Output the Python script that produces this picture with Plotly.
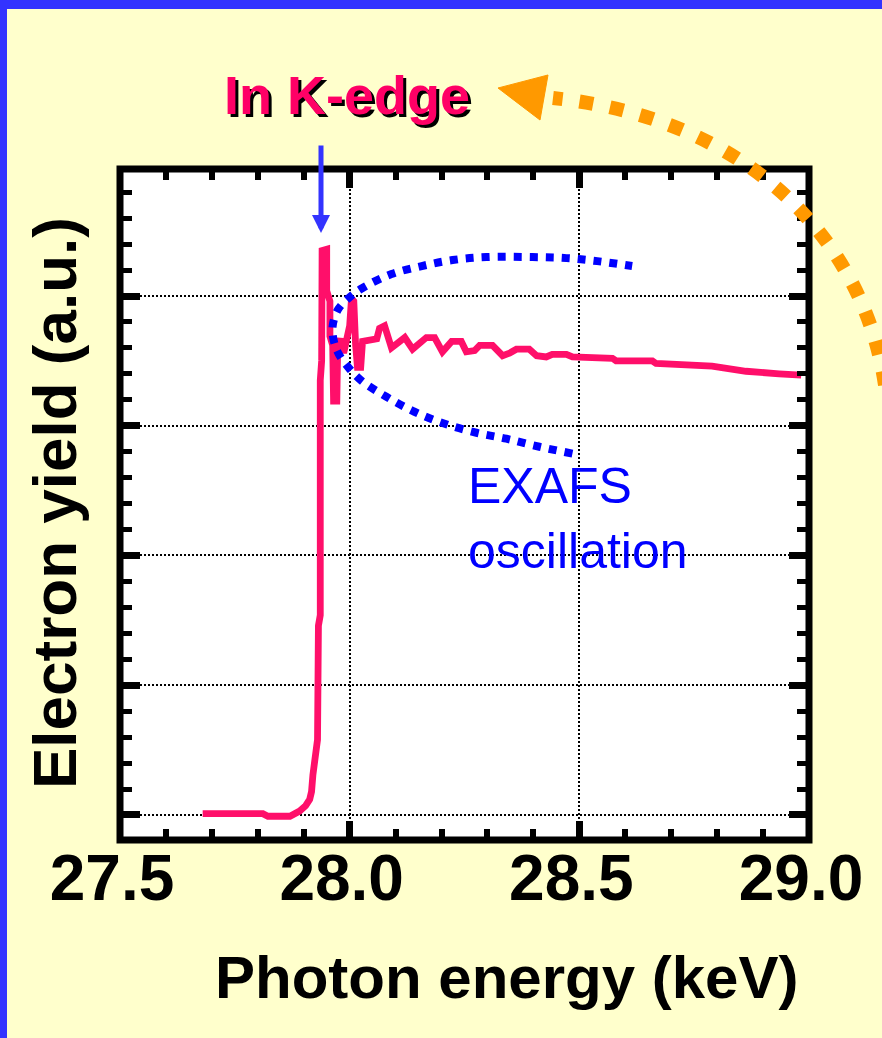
import plotly.graph_objects as go

# ---- data (y in grid units, 1 unit = one major gridline step) ----
energy_kev = [27.680, 27.811, 27.822, 27.870, 27.891, 27.904, 27.913, 27.917, 27.920, 27.926,
              27.930, 27.932, 27.936, 27.936, 27.939, 27.940, 27.950, 27.950, 27.957, 27.957,
              27.963, 27.965, 27.972, 27.974, 27.980, 27.987, 27.993, 28.000, 28.004, 28.009,
              28.013, 28.017, 28.024, 28.028, 28.059, 28.065, 28.076, 28.091, 28.120, 28.137,
              28.167, 28.185, 28.202, 28.222, 28.243, 28.254, 28.272, 28.283, 28.311, 28.333,
              28.348, 28.363, 28.391, 28.407, 28.428, 28.441, 28.472, 28.485, 28.572, 28.580,
              28.659, 28.667, 28.789, 28.863, 28.935, 28.983]
electron_yield = [0.01, 0.01, -0.01, -0.01, 0.03, 0.07, 0.12, 0.18, 0.31, 0.54,
                  0.58, 1.46, 1.54, 3.35, 3.50, 4.35, 4.36, 4.04, 3.96, 3.69,
                  3.62, 3.19, 3.19, 3.62, 3.67, 3.56, 3.67, 3.77, 3.98, 3.96,
                  3.62, 3.45, 3.45, 3.65, 3.67, 3.75, 3.77, 3.60, 3.68, 3.59,
                  3.68, 3.68, 3.57, 3.65, 3.65, 3.57, 3.58, 3.62, 3.62, 3.54,
                  3.56, 3.59, 3.59, 3.54, 3.53, 3.55, 3.55, 3.53, 3.52, 3.50,
                  3.50, 3.48, 3.46, 3.42, 3.40, 3.39]

# EXAFS envelope (lower branch -> vertex -> upper branch)
envelope_kev = [28.485, 28.413, 28.341, 28.276, 28.207, 28.141, 28.080, 28.026, 27.998, 27.976,
                27.965, 27.963, 27.974, 27.998, 28.028, 28.091, 28.157, 28.224, 28.298, 28.398,
                28.472, 28.539, 28.615]
envelope_yield = [2.785, 2.838, 2.900, 2.946, 3.015, 3.108, 3.223, 3.346, 3.446, 3.554,
                  3.662, 3.769, 3.892, 3.985, 4.062, 4.169, 4.231, 4.277, 4.300, 4.300,
                  4.292, 4.269, 4.231]

x_tick_vals = [27.5, 28.0, 28.5, 29.0]
x_tick_text = ["27.5", "28.0", "28.5", "29.0"]
y_tick_vals = [0, 1, 2, 3, 4]
edge_energy = 27.9376
edge_arrow_tip = 4.486

# ---- layout geometry (pixels) ----
W, H = 882, 1038
L, R, T, B = 120, 809, 169, 840
PINK = "#FF0F6A"
FONT = "Arial, 'Liberation Sans', Helvetica, sans-serif"


def pp(px, py):
    return (px - L) / (R - L), (B - py) / (B - T)


fig = go.Figure()
fig.add_trace(go.Scatter(x=energy_kev, y=electron_yield, mode="lines",
                         line=dict(color=PINK, width=6.8), hoverinfo="skip"))
fig.add_trace(go.Scatter(x=envelope_kev, y=envelope_yield, mode="lines",
                         line=dict(color="#0000FF", width=8, dash="8px,8px", shape="spline",
                                   smoothing=1.0), hoverinfo="skip"))

grid = dict(showgrid=True, gridcolor="black", gridwidth=1.5, griddash="2px,2px", zeroline=False)
fig.update_xaxes(range=[27.5, 29.0], tickmode="array", tickvals=x_tick_vals, ticktext=x_tick_text,
                 ticks="inside", ticklen=19, tickwidth=7, tickcolor="black", mirror="ticks",
                 showline=False,
                 tickfont=dict(family=FONT, size=64, color="black", weight="bold"),
                 ticklabelshift=-8, ticklabelstandoff=-5,
                 minor=dict(tickmode="linear", tick0=27.5, dtick=0.1, ticks="inside", ticklen=11,
                            tickwidth=6, tickcolor="black", showgrid=False),
                 **grid)
fig.update_yaxes(range=[-0.193, 4.979], tickmode="array", tickvals=y_tick_vals,
                 showticklabels=False, ticks="inside", ticklen=20, tickwidth=7, tickcolor="black",
                 mirror="ticks", showline=False,
                 minor=dict(tickmode="linear", tick0=0, dtick=0.2, ticks="inside", ticklen=12,
                            tickwidth=5, tickcolor="black", showgrid=False),
                 **grid)

shapes = []
# blue slide border (left and top)
x0, y0 = pp(-10, -10)
x1, y1 = pp(7, H + 10)
shapes.append(dict(type="rect", xref="paper", yref="paper", x0=x0, y0=y0, x1=x1, y1=y1,
                   fillcolor="#3333FF", line=dict(width=0), layer="above"))
x0, y0 = pp(-10, -10)
x1, y1 = pp(W + 10, 9)
shapes.append(dict(type="rect", xref="paper", yref="paper", x0=x0, y0=y0, x1=x1, y1=y1,
                   fillcolor="#3333FF", line=dict(width=0), layer="above"))
# plot frame
shapes.append(dict(type="rect", xref="paper", yref="paper", x0=0, y0=0, x1=1, y1=1,
                   line=dict(color="black", width=7), fillcolor="rgba(0,0,0,0)", layer="above"))
# orange dotted curved arrow
c = [pp(*p) for p in [(885, 385), (865, 250), (760, 120), (553, 98)]]
path = "M{:.4f},{:.4f} C{:.4f},{:.4f} {:.4f},{:.4f} {:.4f},{:.4f}".format(
    c[0][0], c[0][1], c[1][0], c[1][1], c[2][0], c[2][1], c[3][0], c[3][1])
shapes.append(dict(type="path", xref="paper", yref="paper", path=path,
                   line=dict(color="#FF9900", width=14, dash="14px,17px"), layer="above"))
t = [pp(*p) for p in [(498, 88), (548, 75), (540, 120)]]
tri = "M{:.4f},{:.4f} L{:.4f},{:.4f} L{:.4f},{:.4f} Z".format(
    t[0][0], t[0][1], t[1][0], t[1][1], t[2][0], t[2][1])
shapes.append(dict(type="path", xref="paper", yref="paper", path=tri,
                   fillcolor="#FF9900", line=dict(color="#FF9900", width=1), layer="above"))

annotations = []
# In K-edge label with drop shadow
kx, ky = pp(347, 95)
annotations.append(dict(xref="paper", yref="paper", x=kx, y=ky, text="In K-edge",
                        showarrow=False, xanchor="center", yanchor="middle",
                        font=dict(family=FONT, size=54, color="#FF0066", weight="bold",
                                  shadow="3px 3px 0px black")))
# blue arrow to the edge
annotations.append(dict(xref="x", yref="y", x=edge_energy, y=edge_arrow_tip, ax=0, ay=-89,
                        text="", showarrow=True, arrowhead=2, arrowsize=0.72, arrowwidth=5,
                        arrowcolor="#3333FF", standoff=0))
# EXAFS oscillation
ex, ey = pp(466, 518)
annotations.append(dict(xref="paper", yref="paper", x=ex, y=ey, text="EXAFS<br>oscillation",
                        showarrow=False, xanchor="left", yanchor="middle", align="left",
                        font=dict(family=FONT, size=50, color="#0000FF")))
# axis titles
tx, ty = pp(506, 977)
annotations.append(dict(xref="paper", yref="paper", x=tx, y=ty, text="Photon energy (keV)",
                        showarrow=False, xanchor="center", yanchor="middle",
                        font=dict(family=FONT, size=60, color="black", weight="bold")))
yx, yy = pp(54, 503)
annotations.append(dict(xref="paper", yref="paper", x=yx, y=yy, text="Electron yield (a.u.)",
                        showarrow=False, xanchor="center", yanchor="middle", textangle=-90,
                        font=dict(family=FONT, size=62, color="black", weight="bold")))

fig.update_layout(width=W, height=H, margin=dict(l=L, r=W - R, t=T, b=H - B, pad=0),
                  paper_bgcolor="#FFFFCC", plot_bgcolor="white", showlegend=False,
                  shapes=shapes, annotations=annotations)

fig.write_html("out.html", config={"displayModeBar": False},
               post_script="document.body.style.margin='0px';"
                           "document.body.style.overflow='hidden';")
